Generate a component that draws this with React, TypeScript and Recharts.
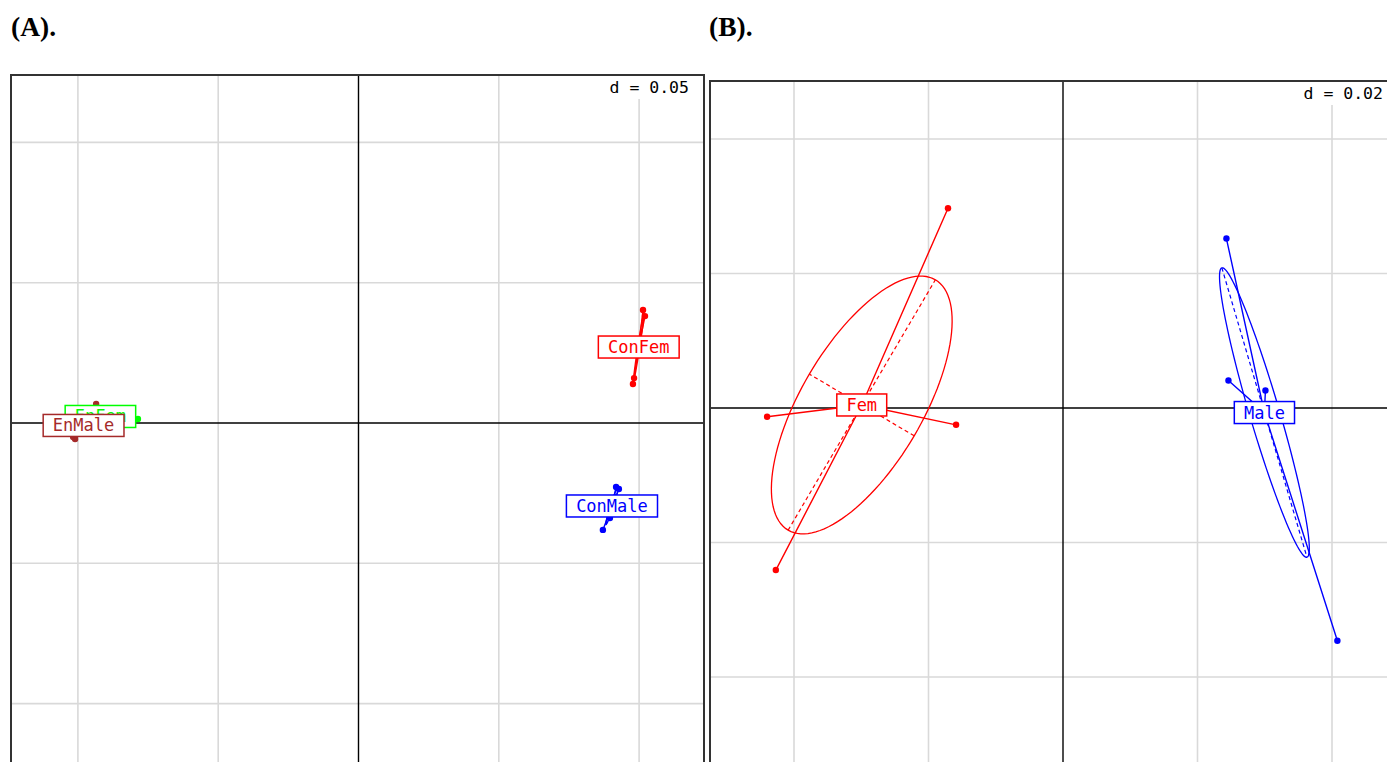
import React from 'react';
import { ScatterChart, Scatter, XAxis, YAxis } from 'recharts';

type P = { x: number; y: number };

// ---------- Panel (A) data (d = 0.05) ----------
const conFemA: P[] = [
  { x: 0.1014, y: 0.0403 },
  { x: 0.1021, y: 0.0381 },
  { x: 0.0982, y: 0.016 },
  { x: 0.0978, y: 0.0139 },
];
const conMaleA: P[] = [
  { x: 0.0918, y: -0.0228 },
  { x: 0.0928, y: -0.0235 },
  { x: 0.0896, y: -0.0339 },
  { x: 0.0871, y: -0.0381 },
];
const enFemA: P[] = [
  { x: -0.0786, y: 0.0014 },
  { x: -0.0993, y: 0.0025 },
  { x: -0.0957, y: 0.0029 },
  { x: -0.0943, y: 0.0025 },
];
const enMaleA: P[] = [
  { x: -0.0935, y: 0.0068 },
  { x: -0.101, y: -0.0057 },
  { x: -0.1017, y: -0.005 },
  { x: -0.0957, y: 0.0004 },
];
const gridA = [-0.1, -0.05, 0.05, 0.1];

// ---------- Panel (B) data (d = 0.02) ----------
const femB: P[] = [
  { x: -0.0171, y: 0.0297 },
  { x: -0.044, y: -0.0013 },
  { x: -0.0159, y: -0.0025 },
  { x: -0.0427, y: -0.0241 },
];
const maleB: P[] = [
  { x: 0.0243, y: 0.0252 },
  { x: 0.0246, y: 0.0041 },
  { x: 0.0301, y: 0.0026 },
  { x: 0.0408, y: -0.0346 },
];
const gridB = [-0.04, -0.02, 0.02, 0.04];

type Group = { name: string; color: string; pts: P[] };
type Spec = {
  w: number;
  h: number;
  xd: [number, number];
  yd: [number, number];
  grid: number[];
  d: string;
  groups: Group[];
};

const panelA: Spec = {
  w: 691,
  h: 700,
  xd: [-0.123485, 0.122772],
  yd: [-0.125802, 0.123664],
  grid: gridA,
  d: 'd = 0.05',
  groups: [
    { name: 'ConFem', color: '#ff0000', pts: conFemA },
    { name: 'ConMale', color: '#0000ff', pts: conMaleA },
    { name: 'EnFem', color: '#00ff00', pts: enFemA },
    { name: 'EnMale', color: '#a52a2a', pts: enMaleA },
  ],
};

const panelB: Spec = {
  w: 686,
  h: 700,
  xd: [-0.052342, 0.049665],
  yd: [-0.055613, 0.048476],
  grid: gridB,
  d: 'd = 0.02',
  groups: [
    { name: 'Fem', color: '#ff0000', pts: femB },
    { name: 'Male', color: '#0000ff', pts: maleB },
  ],
};

// class statistics: centroid, covariance ellipse (1 sd), principal axes
function classStats(pts: P[]) {
  const n = pts.length;
  const mx = pts.reduce((s, p) => s + p.x, 0) / n;
  const my = pts.reduce((s, p) => s + p.y, 0) / n;
  let sxx = 0, syy = 0, sxy = 0;
  pts.forEach((p) => {
    sxx += (p.x - mx) ** 2;
    syy += (p.y - my) ** 2;
    sxy += (p.x - mx) * (p.y - my);
  });
  sxx /= n; syy /= n; sxy /= n;
  const tr = (sxx + syy) / 2;
  const dd = Math.sqrt(((sxx - syy) / 2) ** 2 + sxy ** 2);
  const l1 = tr + dd;
  const l2 = Math.max(tr - dd, 0);
  let vx = 1, vy = 0;
  if (Math.abs(sxy) > 1e-15) { vx = l1 - syy; vy = sxy; } else if (syy > sxx) { vx = 0; vy = 1; }
  const nn = Math.hypot(vx, vy);
  vx /= nn; vy /= nn;
  const ux = -vy, uy = vx;
  const a = Math.sqrt(l1), b = Math.sqrt(l2);
  const c = { x: mx, y: my };
  const ellipse: P[] = [];
  const N = 120;
  for (let i = 0; i <= N; i++) {
    const t = (2 * Math.PI * i) / N;
    ellipse.push({
      x: mx + a * Math.cos(t) * vx + b * Math.sin(t) * ux,
      y: my + a * Math.cos(t) * vy + b * Math.sin(t) * uy,
    });
  }
  const major: P[] = [{ x: mx - a * vx, y: my - a * vy }, { x: mx + a * vx, y: my + a * vy }];
  const minor: P[] = [{ x: mx - b * ux, y: my - b * uy }, { x: mx + b * ux, y: my + b * uy }];
  const star: P[] = [];
  pts.forEach((p) => { star.push(c); star.push(p); });
  return { c, ellipse, major, minor, star };
}

const none = () => <g />;
const MONO = '"DejaVu Sans Mono", monospace';

function dot(color: string) {
  return (p: any) => <circle cx={p.cx} cy={p.cy} r={3.2} fill={color} />;
}

function labelShape(color: string, text: string) {
  return (p: any) => {
    const w = text.length * 10.3 + 19;
    const h = 22;
    return (
      <g>
        <rect x={p.cx - w / 2} y={p.cy - h / 2} width={w} height={h} fill="#fff" stroke={color} strokeWidth={1.5} />
        <text x={p.cx} y={p.cy + 6} textAnchor="middle" fill={color} fontFamily={MONO} fontSize={17}>
          {text}
        </text>
      </g>
    );
  };
}

function dLabel(text: string) {
  return (p: any) => {
    const tw = text.length * 9.95;
    return (
      <g>
        <rect x={p.cx - 14 - tw - 6} y={p.cy} width={tw + 20} height={23} fill="#fff" />
        <text x={p.cx - 14} y={p.cy + 17} textAnchor="end" fill="#000" fontFamily={MONO} fontSize={16.5}>
          {text}
        </text>
      </g>
    );
  };
}

function Panel({ spec }: { spec: Spec }) {
  const { w, h, xd, yd, grid, groups } = spec;
  const stats = groups.map((g) => ({ g, s: classStats(g.pts) }));
  return (
    <ScatterChart width={w} height={h} margin={{ top: 0, right: 0, bottom: 0, left: 0 }}>
      <XAxis type="number" dataKey="x" domain={xd} hide allowDataOverflow />
      <YAxis type="number" dataKey="y" domain={yd} hide allowDataOverflow />
      {grid.map((v) => (
        <Scatter key={'gv' + v} data={[{ x: v, y: yd[0] }, { x: v, y: yd[1] }]} line={{ stroke: '#d9d9d9', strokeWidth: 1.6 }} lineType="joint" shape={none} isAnimationActive={false} />
      ))}
      {grid.map((v) => (
        <Scatter key={'gh' + v} data={[{ x: xd[0], y: v }, { x: xd[1], y: v }]} line={{ stroke: '#d9d9d9', strokeWidth: 1.6 }} lineType="joint" shape={none} isAnimationActive={false} />
      ))}
      <Scatter data={[{ x: 0, y: yd[0] }, { x: 0, y: yd[1] }]} line={{ stroke: '#000', strokeWidth: 1.4 }} lineType="joint" shape={none} isAnimationActive={false} />
      <Scatter data={[{ x: xd[0], y: 0 }, { x: xd[1], y: 0 }]} line={{ stroke: '#000', strokeWidth: 1.4 }} lineType="joint" shape={none} isAnimationActive={false} />
      {stats.map(({ g }) => (
        <Scatter key={'pt' + g.name} data={g.pts} shape={dot(g.color)} isAnimationActive={false} />
      ))}
      {stats.map(({ g, s }) => (
        <Scatter key={'el' + g.name} data={s.ellipse} line={{ stroke: g.color, strokeWidth: 1.3 }} lineType="joint" shape={none} isAnimationActive={false} />
      ))}
      {stats.map(({ g, s }) => (
        <Scatter key={'ma' + g.name} data={s.major} line={{ stroke: g.color, strokeWidth: 1.2, strokeDasharray: '4 3' }} lineType="joint" shape={none} isAnimationActive={false} />
      ))}
      {stats.map(({ g, s }) => (
        <Scatter key={'mi' + g.name} data={s.minor} line={{ stroke: g.color, strokeWidth: 1.2, strokeDasharray: '4 3' }} lineType="joint" shape={none} isAnimationActive={false} />
      ))}
      {stats.map(({ g, s }) => (
        <Scatter key={'st' + g.name} data={s.star} line={{ stroke: g.color, strokeWidth: 1.4 }} lineType="joint" shape={none} isAnimationActive={false} />
      ))}
      {stats.map(({ g, s }) => (
        <Scatter key={'lb' + g.name} data={[s.c]} shape={labelShape(g.color, g.name)} isAnimationActive={false} />
      ))}
      <Scatter data={[{ x: xd[1], y: yd[1] }]} shape={dLabel(spec.d)} isAnimationActive={false} />
    </ScatterChart>
  );
}

export default function App() {
  const serif = '"Liberation Serif", "Times New Roman", serif';
  return (
    <div style={{ position: 'fixed', left: 0, top: 0, width: 1387, height: 762, overflow: 'hidden', background: '#fff' }}>
      <svg width={1387} height={60} style={{ position: 'absolute', left: 0, top: 0 }}>
        <text x={11} y={36} fontFamily={serif} fontWeight="bold" fontSize={27.5} fill="#000">(A).</text>
        <text x={709} y={36} fontFamily={serif} fontWeight="bold" fontSize={27.5} fill="#000">(B).</text>
      </svg>
      <div style={{ position: 'absolute', left: 10, top: 74, width: panelA.w, height: panelA.h, border: '2px solid #333' }}>
        <Panel spec={panelA} />
      </div>
      <div style={{ position: 'absolute', left: 709, top: 80, width: panelB.w, height: panelB.h, border: '2px solid #333' }}>
        <Panel spec={panelB} />
      </div>
    </div>
  );
}
